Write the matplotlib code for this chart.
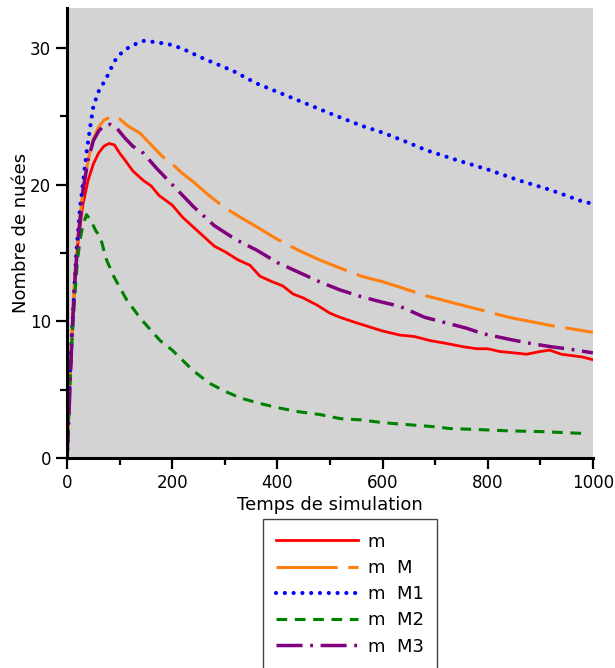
import matplotlib
matplotlib.use("Agg")
import matplotlib.pyplot as plt
from matplotlib.ticker import MultipleLocator

# ==========================================================
# Data
# ==========================================================

t_m = [0, 5, 10, 15, 20, 30, 40, 50, 60, 70, 80, 90, 100, 110, 125, 145, 160, 175,
       200, 220, 240, 260, 280, 300, 325, 348, 367, 390, 410, 430, 450, 475, 500,
       519, 550, 575, 600, 633, 660, 690, 720, 753, 780, 800, 823, 850, 874, 900,
       918, 940, 960, 980, 1000]
y_m = [0, 5, 9.5, 13, 15.5, 18.5, 20.3, 21.5, 22.3, 22.8, 23.0, 22.9, 22.3, 21.8,
       21.0, 20.3, 19.9, 19.2, 18.5, 17.6, 16.9, 16.2, 15.5, 15.1, 14.5, 14.1, 13.3,
       12.9, 12.6, 12.0, 11.7, 11.2, 10.6, 10.3, 9.9, 9.6, 9.3, 9.0, 8.9, 8.6, 8.4,
       8.15, 8.0, 8.0, 7.8, 7.7, 7.6, 7.8, 7.9, 7.6, 7.5, 7.4, 7.2]

t_M = [0, 5, 10, 15, 20, 30, 40, 50, 60, 70, 80, 90, 100, 115, 139, 160, 180, 200,
       220, 240, 270, 300, 330, 361, 400, 440, 480, 519, 560, 600, 633, 680, 720,
       760, 791, 840, 880, 920, 960, 1000]
y_M = [0, 5, 10, 13.5, 16, 19.5, 21.8, 23.3, 24.2, 24.7, 24.9, 25.0, 24.8, 24.3,
       23.75, 22.9, 22.1, 21.5, 20.8, 20.2, 19.2, 18.3, 17.6, 16.9, 16.0, 15.2, 14.5,
       13.9, 13.3, 12.9, 12.5, 11.9, 11.5, 11.1, 10.8, 10.3, 10.0, 9.7, 9.45, 9.2]

t_M1 = [0, 6, 12, 18, 25, 31, 37, 44, 50, 60, 75, 90, 100, 120, 145, 170, 200, 221,
        260, 316, 360, 430, 500, 560, 600, 640, 684, 740, 800, 860, 920, 981, 1000]
y_M1 = [0, 6.7, 11, 15.2, 18.4, 20.3, 22.3, 24.2, 25.7, 26.8, 27.8, 29.0, 29.5,
        30.1, 30.5, 30.4, 30.2, 29.9, 29.2, 28.3, 27.4, 26.3, 25.2, 24.3, 23.8, 23.2,
        22.5, 21.8, 21.1, 20.3, 19.6, 18.75, 18.6]

t_M2 = [0, 5, 10, 15, 20, 25, 30, 37, 45, 55, 63, 75, 90, 113, 140, 177, 200, 240,
        270, 300, 330, 367, 400, 440, 480, 519, 560, 600, 650, 700, 728, 780, 840,
        900, 990]
y_M2 = [0, 5, 9, 12, 14.5, 16, 17, 17.8, 17.4, 16.6, 16.2, 14.5, 13.2, 11.6, 10.2,
        8.6, 7.9, 6.4, 5.5, 4.9, 4.4, 4.0, 3.7, 3.4, 3.2, 2.9, 2.8, 2.6, 2.45, 2.3,
        2.17, 2.1, 2.0, 1.95, 1.8]

t_M3 = [0, 5, 10, 15, 20, 30, 40, 50, 60, 70, 82, 95, 110, 125, 145, 170, 200, 240,
        280, 320, 361, 400, 440, 480, 519, 560, 600, 633, 680, 720, 760, 791, 840,
        880, 920, 960, 1000]
y_M3 = [0, 4.5, 9.5, 13, 15.5, 19.5, 21.8, 23.2, 23.9, 24.3, 24.4, 24.1, 23.4, 22.8,
        22.3, 21.2, 20.0, 18.4, 17.0, 16.0, 15.2, 14.3, 13.6, 12.9, 12.3, 11.8, 11.4,
        11.1, 10.3, 9.9, 9.5, 9.1, 8.7, 8.4, 8.15, 7.95, 7.7]

labels = ["m", "m  M", "m  M1", "m  M2", "m  M3"]

# ==========================================================
# Plot
# ==========================================================

fig = plt.figure(figsize=(6.15, 6.68), dpi=100)
ax = fig.add_axes([0.109, 0.314, 0.855, 0.674])
ax.set_facecolor("#d3d3d3")

ax.plot(t_m, y_m, color="red", lw=2, label=labels[0])
ax.plot(t_M, y_M, color="#ff7f0e", lw=2.2, dashes=(20, 3.5), label=labels[1])
ax.plot(t_M1, y_M1, color="blue", lw=3, dashes=(0.01, 2.1),
        dash_capstyle="round", label=labels[2])
ax.plot(t_M2, y_M2, color="green", lw=2.2, dashes=(3.5, 2.5), label=labels[3])
ax.plot(t_M3, y_M3, color="purple", lw=2.5, dashes=(7.5, 2.2, 0.8, 2.2),
        label=labels[4])

ax.set_xlim(0, 1000)
ax.set_ylim(0, 32.9)

ax.xaxis.set_major_locator(MultipleLocator(200))
ax.xaxis.set_minor_locator(MultipleLocator(100))
ax.yaxis.set_major_locator(MultipleLocator(10))
ax.yaxis.set_minor_locator(MultipleLocator(5))

for side in ["top", "right"]:
    ax.spines[side].set_visible(False)
for side in ["left", "bottom"]:
    ax.spines[side].set_linewidth(2.2)

ax.tick_params(which="major", length=8, width=1.6, labelsize=12)
ax.tick_params(which="minor", length=5, width=1.6)

ax.set_xlabel("Temps de simulation", fontsize=13, labelpad=3)
ax.set_ylabel("Nombre de nuées", fontsize=13, labelpad=0)

# legend box runs off the bottom of the figure, as in the original
fig.legend(loc="upper center", bbox_to_anchor=(0.569, 0.223), fontsize=13,
           handlelength=4.5, handletextpad=0.55, fancybox=False,
           edgecolor="#444444", framealpha=1, borderpad=0.75,
           labelspacing=0.46, borderaxespad=0)

fig.savefig("out.png", dpi=100)
